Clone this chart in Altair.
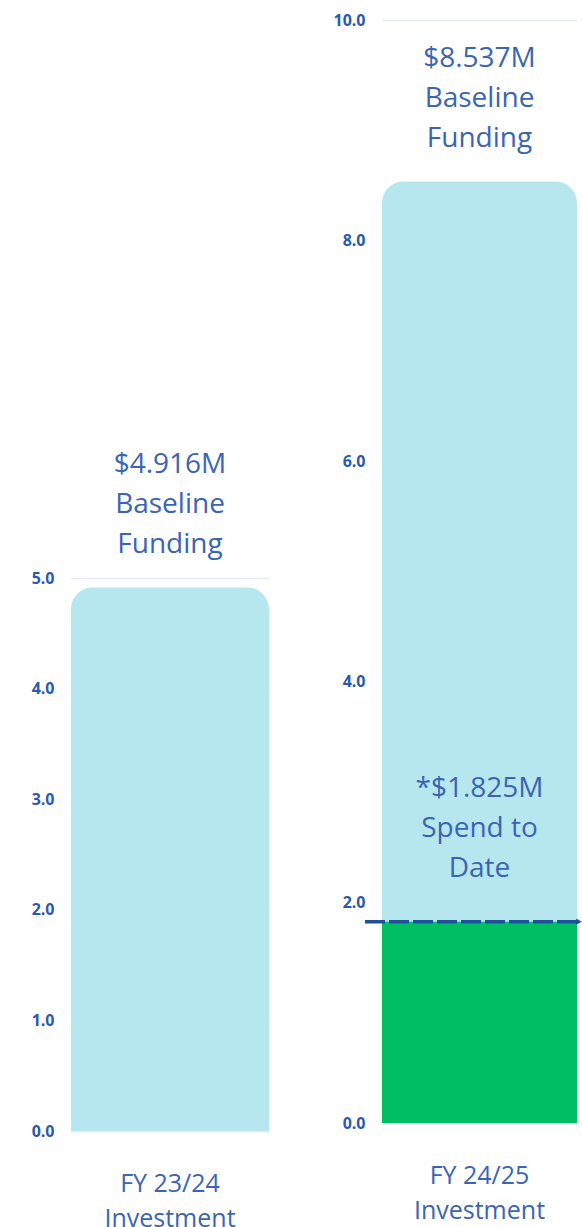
import altair as alt
import pandas as pd

# ---- data ----
years = ["FY 23/24|Investment", "FY 24/25|Investment"]
baseline = [4.916, 8.537]
base_labels = ["$4.916M\nBaseline\nFunding", "$8.537M\nBaseline\nFunding"]
spend_value = [1.825]
spend_label = ["*$1.825M\nSpend to\nDate"]
left_ticks = [0, 1, 2, 3, 4, 5]
right_ticks = [0, 2, 4, 6, 8, 10]

LIGHT = "#b7e7ee"
GREEN = "#00bf63"
TICK_COL = "#2a5aab"
TEXT_COL = "#3c64b4"
LINE_COL = "#1f4f9f"
FONT = "Open Sans"


def base_layers(i, domain_max, ticks):
    df = pd.DataFrame({"cat": [years[i]], "val": [baseline[i]], "lab": [base_labels[i]]})
    x = alt.X(
        "cat:N",
        title=None,
        scale=alt.Scale(paddingInner=0, paddingOuter=0),
        axis=alt.Axis(
            labelAngle=0,
            labelExpr="split(datum.label, '|')",
            labelFont=FONT,
            labelFontSize=25,
            labelColor=TEXT_COL,
            labelLineHeight=35,
            labelPadding=40,
            labelBaseline="top",
            ticks=False,
            domain=False,
        ),
    )
    y = alt.Y(
        "val:Q",
        title=None,
        scale=alt.Scale(domain=[0, domain_max], nice=False, zero=True),
        axis=alt.Axis(
            values=ticks,
            format=".1f",
            labelFont=FONT,
            labelFontSize=16,
            labelFontWeight="bold",
            labelColor=TICK_COL,
            labelPadding=17,
            ticks=False,
            domain=False,
            grid=True,
            gridColor="#e5ecf6",
            gridWidth=1.5,
        ),
    )
    bar = alt.Chart(df).mark_bar(
        color=LIGHT, cornerRadiusTopLeft=22, cornerRadiusTopRight=22
    ).encode(x=x, y=y)
    txt = alt.Chart(df).mark_text(
        baseline="bottom", dy=-108, lineBreak="\n", fontSize=28, lineHeight=40,
        color=TEXT_COL, font=FONT,
    ).encode(x="cat:N", y="val:Q", text="lab:N")
    return bar, txt


# left panel
L_W, L_H = 198, 1111
lbar, ltxt = base_layers(0, L_H / 110.6, left_ticks)
left = alt.layer(lbar, ltxt).properties(width=L_W, height=L_H)

# right panel
R_W, R_H = 195, 1103
rbar, rtxt = base_layers(1, 10, right_ticks)
sdf = pd.DataFrame({"cat": [years[1]], "val": spend_value, "lab": spend_label})
green = alt.Chart(sdf).mark_bar(color=GREEN).encode(x="cat:N", y="val:Q")
dash = alt.Chart(sdf).mark_rule(
    color=LINE_COL, strokeWidth=3.5, strokeDash=[20, 4]
).encode(x=alt.value(-17), x2=alt.value(R_W + 2), y="val:Q")
arrow = alt.Chart(sdf).mark_point(
    shape="triangle-right", filled=True, color=LINE_COL, size=40, opacity=1
).encode(x=alt.value(R_W + 2), y="val:Q")
stxt = alt.Chart(sdf).mark_text(
    baseline="bottom", dy=-119, lineBreak="\n", fontSize=28, lineHeight=40,
    color=TEXT_COL, font=FONT,
).encode(x="cat:N", y="val:Q", text="lab:N")
right = alt.layer(rbar, green, dash, arrow, rtxt, stxt).properties(width=R_W, height=R_H)

chart = (
    alt.hconcat(left, right, spacing=113, bounds="flush")
    .properties(padding={"top": 12, "left": 31, "right": 0, "bottom": 0})
    .configure_view(stroke=None)
)

chart.save("out.html", embed_options={"renderer": "svg", "actions": False})
